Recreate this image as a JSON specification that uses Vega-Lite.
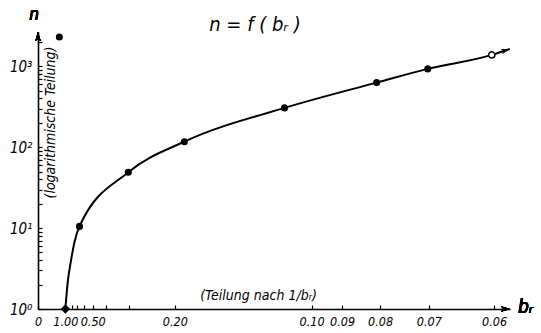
{
  "$schema": "https://vega.github.io/schema/vega-lite/v6.json",
  "width": 472,
  "height": 277,
  "autosize": "none",
  "padding": {"left": 38, "top": 32, "right": 31, "bottom": 24},
  "background": "white",
  "title": {"text": "n = f ( bᵣ )", "font": "Liberation Sans Narrow, DejaVu Sans Condensed, sans-serif", "fontSize": 20, "fontStyle": "italic", "fontWeight": "normal", "color": "black", "anchor": "middle", "dx": -19, "dy": 31, "offset": 2},
  "config": {"view": {"stroke": null}},
  "data": {"values": [
    {"b": 1.0, "n": 1, "kind": "start"},
    {"b": 0.923, "n": 2.1, "kind": "curve"},
    {"b": 0.828, "n": 4.0, "kind": "curve"},
    {"b": 0.753, "n": 6.6, "kind": "curve"},
    {"b": 0.66, "n": 10.5, "kind": "measured"},
    {"b": 0.303, "n": 49, "kind": "measured"},
    {"b": 0.187, "n": 117, "kind": "measured"},
    {"b": 0.111, "n": 306, "kind": "measured"},
    {"b": 0.0808, "n": 629, "kind": "measured"},
    {"b": 0.0702, "n": 929, "kind": "measured"},
    {"b": 0.0603, "n": 1383, "kind": "open"},
    {"b": 0.058, "n": 1641, "kind": "end"},
    {"b": 1.28, "n": 2300, "kind": "stray"}
  ]},
  "encoding": {
    "x": {"field": "b", "type": "quantitative",
      "scale": {"type": "pow", "exponent": -1, "domain": [1000000, 0.05797], "nice": false, "zero": false},
      "axis": {"values": [1000000, 1, 0.8, 0.7, 0.6, 0.5, 0.4, 0.3, 0.2, 0.1, 0.09, 0.08, 0.07, 0.06],
        "labelExpr": "datum.value > 100 ? '0' : (datum.value == 1 || datum.value == 0.5 || datum.value == 0.2 || datum.value <= 0.1001) ? format(datum.value, '.2f') : ''",
        "tickSize": -4, "labelPadding": 10, "domainColor": "black", "domainWidth": 1.6, "tickColor": "black", "tickWidth": 1.2, "grid": false,
        "labelFont": "Liberation Sans Narrow, DejaVu Sans Condensed, sans-serif", "labelFontStyle": "italic", "labelFontSize": 12.5, "labelColor": "black", "labelFlush": false, "labelOverlap": false,
        "title": "(Teilung nach 1/bᵣ)", "titleX": 220, "titleY": -14, "titleFont": "Liberation Sans Narrow, DejaVu Sans Condensed, sans-serif", "titleFontStyle": "italic", "titleFontWeight": "normal", "titleFontSize": 14, "titleColor": "black", "titleBaseline": "middle", "titleAlign": "center"}},
    "y": {"field": "n", "type": "quantitative",
      "scale": {"type": "log", "domain": [1, 2655], "nice": false},
      "axis": {"values": [1,2,3,4,5,6,7,8,9,10,20,30,40,50,60,70,80,90,100,200,300,400,500,600,700,800,900,1000,2000],
        "labelExpr": "datum.value == 1 ? '10⁰' : datum.value == 10 ? '10¹' : datum.value == 100 ? '10²' : datum.value == 1000 ? '10³' : ''",
        "tickSize": -4, "labelPadding": 10, "domainColor": "black", "domainWidth": 1.6, "tickColor": "black", "tickWidth": 1.2, "grid": false,
        "labelFont": "Liberation Sans Narrow, DejaVu Sans Condensed, sans-serif", "labelFontStyle": "italic", "labelFontSize": 15, "labelColor": "black", "labelOverlap": false, "labelFlush": false,
        "title": "(logarithmische Teilung)", "titleX": 12, "titleY": 90, "titleAngle": -90, "titleFont": "Liberation Sans Narrow, DejaVu Sans Condensed, sans-serif", "titleFontStyle": "italic", "titleFontWeight": "normal", "titleFontSize": 14, "titleColor": "black", "titleBaseline": "middle", "titleAlign": "center"}}
  },
  "layer": [
    {"transform": [{"filter": "datum.kind != 'stray'"}],
     "mark": {"type": "line", "color": "black", "strokeWidth": 2, "interpolate": "monotone"},
     "encoding": {"order": {"field": "n", "type": "quantitative"}}},
    {"transform": [{"filter": "datum.kind == 'measured' || datum.kind == 'stray'"}],
     "mark": {"type": "point", "shape": "circle", "filled": true, "color": "black", "size": 50, "opacity": 1}},
    {"transform": [{"filter": "datum.kind == 'start'"}],
     "mark": {"type": "point", "shape": "diamond", "filled": true, "color": "black", "size": 90, "opacity": 1}},
    {"transform": [{"filter": "datum.kind == 'open'"}],
     "mark": {"type": "point", "shape": "circle", "filled": false, "fill": "white", "stroke": "black", "strokeWidth": 1.5, "size": 40, "opacity": 1}},
    {"transform": [{"filter": "datum.kind == 'end'"}],
     "mark": {"type": "point", "shape": "M0,0L-2,-0.6L-1.5,0L-2,0.6Z", "filled": true, "color": "black", "size": 80, "angle": -18, "opacity": 1}},
    {"mark": {"type": "point", "shape": "M0,0L-2,-0.6L-1.5,0L-2,0.6Z", "filled": true, "color": "black", "size": 80, "opacity": 1},
     "encoding": {"x": {"datum": 0.05797, "type": "quantitative"}, "y": {"datum": 1, "type": "quantitative"}}},
    {"mark": {"type": "point", "shape": "M0,0L-2,-0.6L-1.5,0L-2,0.6Z", "filled": true, "color": "black", "size": 80, "angle": -90, "opacity": 1},
     "encoding": {"x": {"datum": 1000000, "type": "quantitative"}, "y": {"datum": 2655, "type": "quantitative"}}},
    {"mark": {"type": "text", "text": "bᵣ", "font": "Liberation Sans Narrow, DejaVu Sans Condensed, sans-serif", "fontSize": 19, "fontStyle": "italic", "color": "black", "align": "left", "baseline": "middle", "dx": 8, "dy": -2},
     "encoding": {"x": {"datum": 0.05797, "type": "quantitative"}, "y": {"datum": 1, "type": "quantitative"}}},
    {"mark": {"type": "text", "text": "n", "font": "Liberation Sans Narrow, DejaVu Sans Condensed, sans-serif", "fontSize": 17, "fontStyle": "italic", "color": "black", "align": "center", "baseline": "middle", "dx": -4, "dy": -17},
     "encoding": {"x": {"datum": 1000000, "type": "quantitative"}, "y": {"datum": 2655, "type": "quantitative"}}}
  ]
}
